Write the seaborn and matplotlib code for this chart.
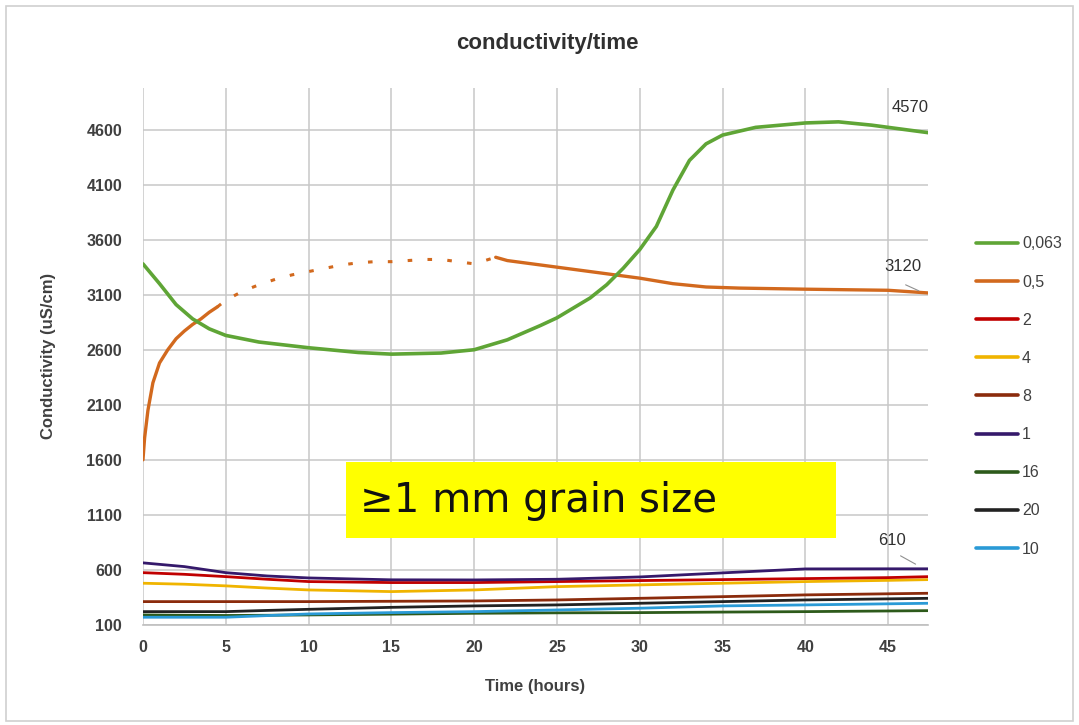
import numpy as np
import pandas as pd
import matplotlib
matplotlib.use("Agg")
import matplotlib.pyplot as plt
import seaborn as sns
from matplotlib.lines import Line2D
from matplotlib.patches import Rectangle

sns.set_theme(style="white")
plt.rcParams['font.family'] = ['Liberation Sans', 'DejaVu Sans']

# ---- data ----
series_names = ["0,063", "0,5", "2", "4", "8", "1", "16", "20", "10"]
series_colors = ["#5fa536", "#d2691e", "#c00000", "#f0b400", "#8b2b0c",
                 "#35196b", "#2d5a1b", "#222222", "#2a9ad6"]

x_g = [0, 1, 2, 3, 4, 5, 7, 10, 13, 15, 18, 20, 22, 24, 25, 27, 28, 29, 30, 31, 32, 33, 34, 35, 37, 40, 42, 44, 45, 47.5]
y_g = [3380, 3200, 3010, 2880, 2790, 2730, 2670, 2618, 2575, 2560, 2570, 2600, 2690, 2820, 2890, 3070, 3190, 3340, 3510, 3720, 4050, 4320, 4470, 4550, 4620, 4660, 4670, 4640, 4620, 4570]

x_o1 = [0, 0.1, 0.3, 0.6, 1, 1.5, 2, 2.5, 3, 3.5, 4, 4.5]
y_o1 = [1600, 1800, 2050, 2300, 2480, 2600, 2700, 2770, 2830, 2880, 2940, 2990]
x_o2 = [4.5, 5, 6, 7, 8, 9, 10, 11, 12, 13, 14, 15, 16, 17, 18, 19, 20, 21.3]
y_o2 = [2990, 3050, 3130, 3190, 3240, 3280, 3310, 3340, 3370, 3390, 3400, 3400, 3410, 3420, 3420, 3400, 3380, 3440]
x_o3 = [21.3, 22, 24, 26, 28, 30, 32, 34, 36, 40, 45, 47.5]
y_o3 = [3440, 3410, 3370, 3330, 3290, 3250, 3200, 3170, 3160, 3150, 3140, 3115]

x_low = [0, 2.5, 5, 7.5, 10, 15, 20, 25, 30, 35, 40, 45, 47.5]
y_2  = [575, 560, 539, 515, 494, 485, 485, 494, 503, 512, 521, 530, 539]
y_4  = [479, 470, 455, 435, 418, 403, 418, 448, 464, 479, 494, 505, 512]
y_8  = [312, 312, 312, 312, 312, 315, 318, 327, 342, 357, 373, 383, 388]
y_1  = [664, 630, 575, 545, 527, 510, 509, 515, 536, 573, 609, 610, 610]
y_16 = [191, 188, 186, 188, 191, 198, 206, 210, 212, 217, 221, 227, 230]
y_20 = [221, 221, 221, 232, 242, 260, 273, 282, 297, 312, 327, 337, 342]
y_10 = [170, 170, 170, 185, 200, 212, 221, 236, 252, 273, 282, 292, 297]

y_ticks = [100, 600, 1100, 1600, 2100, 2600, 3100, 3600, 4100, 4600]
x_ticks = [0, 5, 10, 15, 20, 25, 30, 35, 40, 45]

# ---- figure ----
fig = plt.figure(figsize=(10.79, 7.25), dpi=100)
fig.patch.set_facecolor("white")
fig.add_artist(Rectangle((0.006, 0.006), 0.988, 0.986, transform=fig.transFigure,
                         fill=False, edgecolor="#d0d0d0", linewidth=1.2))
ax = fig.add_axes([0.1325, 0.138, 0.7275, 0.741])

lw = 2.4
def draw(x, y, c, **kw):
    sns.lineplot(x=x, y=y, ax=ax, color=c, linewidth=kw.pop("lw", lw),
                 legend=False, estimator=None, sort=False, **kw)

# low series
draw(x_low, y_16, series_colors[6], lw=2.0)
draw(x_low, y_10, series_colors[8], lw=2.0)
draw(x_low, y_20, series_colors[7], lw=2.0)
draw(x_low, y_8, series_colors[4], lw=2.0)
draw(x_low, y_4, series_colors[3], lw=2.0)
draw(x_low, y_2, series_colors[2], lw=2.0)
draw(x_low, y_1, series_colors[5], lw=2.0)
# orange
draw(x_o1, y_o1, series_colors[1])
draw(x_o2, y_o2, series_colors[1], lw=2.2, linestyle=(0, (1.5, 5)))
draw(x_o3, y_o3, series_colors[1])
# green
draw(x_g, y_g, series_colors[0], lw=2.6)

ax.set_xlim(0, 47.4)
ax.set_ylim(100, 4980)
ax.set_xticks(x_ticks)
ax.set_yticks(y_ticks)
ax.grid(True, color="#c8c8c8", linewidth=1.1)
ax.set_axisbelow(True)
for s in ["top", "right", "left"]:
    ax.spines[s].set_visible(False)
ax.spines["bottom"].set_color("#bfbfbf")
ax.spines["bottom"].set_linewidth(1.2)
ax.tick_params(axis="x", length=0, labelsize=11.5, colors="#404040", pad=11)
ax.tick_params(axis="y", length=0, labelsize=11.5, colors="#404040", pad=15)
for lab in ax.get_xticklabels() + ax.get_yticklabels():
    lab.set_fontweight("bold")
ax.set_xlabel("Time (hours)", fontsize=12, fontweight="bold", color="#404040", labelpad=17)
ax.set_ylabel("Conductivity (uS/cm)", fontsize=12, fontweight="bold", color="#404040", labelpad=22)

fig.text(0.507, 0.94, "conductivity/time", ha="center", va="center",
         fontsize=16, fontweight="bold", color="#303030")

# annotations
ax.text(46.3, 4800, "4570", fontsize=12, color="#303030", ha="center", va="center")
ax.text(45.9, 3360, "3120", fontsize=12, color="#303030", ha="center", va="center")
ax.annotate("", xy=(47.0, 3125), xytext=(45.9, 3200),
            arrowprops=dict(arrowstyle="-", color="#909090", lw=0.8))
ax.text(45.2, 870, "610", fontsize=12, color="#303030", ha="center", va="center")
ax.annotate("", xy=(46.8, 640), xytext=(45.6, 740),
            arrowprops=dict(arrowstyle="-", color="#909090", lw=0.8))

# yellow label box
fig.add_artist(Rectangle((346 / 1079, 1 - 538 / 725), 490 / 1079, 76 / 725,
                         transform=fig.transFigure, facecolor="#ffff00",
                         edgecolor="none", zorder=5))
fig.text(360 / 1079, 1 - 501 / 725, "≥1 mm grain size", fontsize=29,
         family=["DejaVu Sans"], color="#111111", ha="left", va="center", zorder=6)

# legend
handles = [Line2D([0], [0], color=c, linewidth=2.6) for c in series_colors]
leg = fig.legend(handles, series_names, loc="upper left",
                 bbox_to_anchor=(962 / 1079, 1 - 222 / 725), frameon=False,
                 fontsize=11.5, handlelength=2.6, handletextpad=0.25,
                 labelspacing=1.45)
for t in leg.get_texts():
    t.set_color("#404040")

fig.savefig("out.png", dpi=100, facecolor="white")
